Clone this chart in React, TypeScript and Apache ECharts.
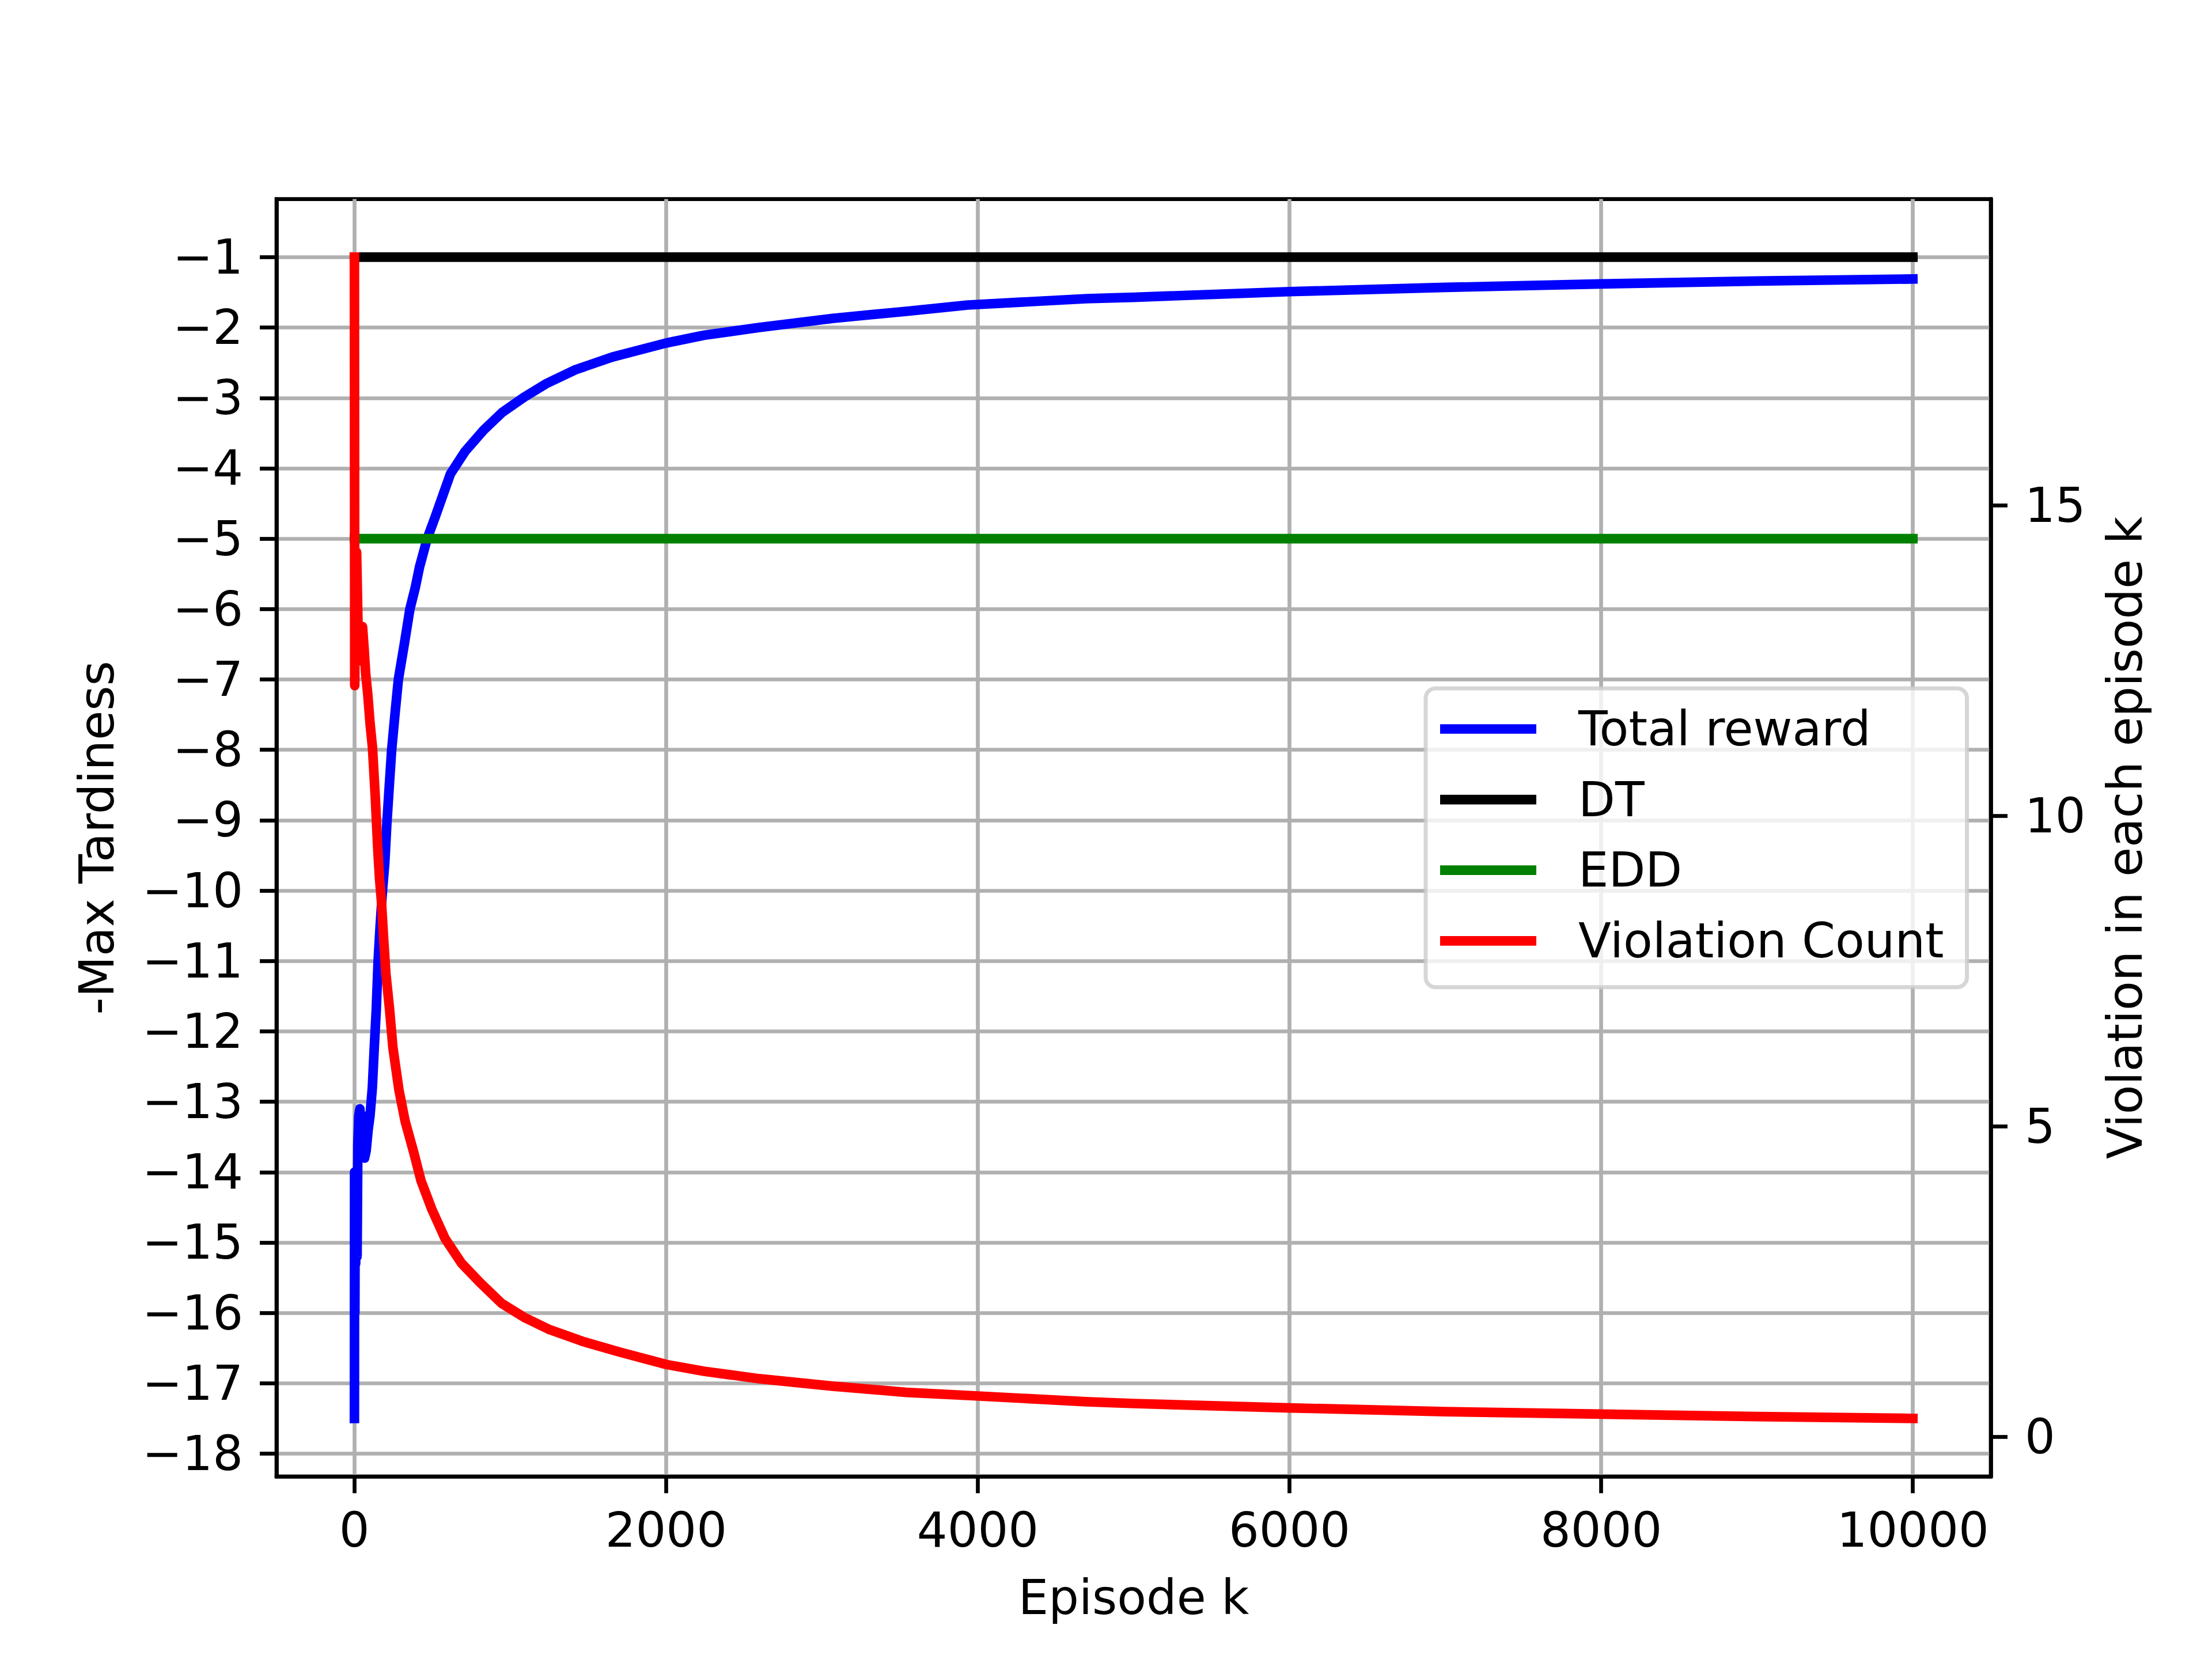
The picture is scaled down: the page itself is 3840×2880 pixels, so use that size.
import React, { useEffect, useRef } from "react";
import * as echarts from "echarts";

// ---- data ----
const rewardEpisodes = [
  0, 1, 3, 5, 8, 12, 17, 22, 28, 35,
  45, 55, 65, 75, 88, 100, 115, 128, 140, 152,
  165, 180, 195, 208, 224, 239, 260, 282, 320, 356,
  390, 418, 467, 520, 616, 710, 828, 946, 1088, 1229,
  1418, 1654, 2000, 2243, 2597, 3068, 3540, 3936, 4696, 5000,
  6000, 7000, 8000, 9000, 10000,
];
const totalReward = [
  -17.5, -14.0, -16.0, -14.2, -15.3, -14.0, -15.2, -13.6, -13.2, -13.1,
  -13.5, -13.2, -13.8, -13.7, -13.4, -13.2, -12.8, -12.2, -11.7, -11.0,
  -10.5, -10.0, -9.6, -9.05, -8.5, -8.0, -7.5, -7.0, -6.5, -6.0,
  -5.7, -5.4, -5.0, -4.68, -4.08, -3.76, -3.46, -3.21, -2.99, -2.8,
  -2.6, -2.42, -2.22, -2.11, -2.0, -1.87, -1.77, -1.68, -1.59, -1.57,
  -1.49, -1.43, -1.38, -1.34, -1.31,
];

const violationEpisodes = [
  0, 2, 6, 14, 22, 30, 40, 52, 62, 72,
  86, 100, 116, 134, 150, 161, 173, 188, 202, 225,
  247, 285, 325, 380, 427, 498, 581, 687, 805, 946,
  1088, 1252, 1465, 1700, 2000, 2243, 2597, 3068, 3540, 3936,
  4696, 5000, 6000, 7000, 8000, 9000, 10000,
];
const violationCount = [
  19.0, 12.1, 13.6, 14.25, 13.2, 12.5, 12.7, 13.05, 12.7, 12.3,
  11.95, 11.5, 11.1, 10.3, 9.46, 9.0, 8.64, 8.0, 7.46, 6.9,
  6.27, 5.6, 5.09, 4.59, 4.13, 3.66, 3.2, 2.8, 2.49, 2.15,
  1.93, 1.73, 1.54, 1.37, 1.17, 1.06, 0.94, 0.82, 0.72, 0.67,
  0.57, 0.54, 0.47, 0.41, 0.37, 0.33, 0.3,
];

const baselineEpisodes = [0, 10000];
const dtValues = [-1, -1];
const eddValues = [-5, -5];

const xTicks = [0, 2000, 4000, 6000, 8000, 10000];
const leftTicks = [-18, -17, -16, -15, -14, -13, -12, -11, -10, -9, -8, -7, -6, -5, -4, -3, -2, -1];
const rightTicks = [0, 5, 10, 15];

const seriesNames = ["Total reward", "DT", "EDD", "Violation Count"];

// ---- styling ----
const FONT = "'DejaVu Sans', sans-serif";
const FS = 83;
const LW = 16.7;
const AX = 6.7;

const pairs = (xs: number[], ys: number[]) => xs.map((x, i) => [x, ys[i]]);
const minusFmt = (v: number) => (v < 0 ? "\u2212" + Math.abs(v) : String(v));

export default function App() {
  const ref = useRef<HTMLDivElement>(null);

  useEffect(() => {
    if (!ref.current) return;
    const chart = echarts.init(ref.current, undefined, { renderer: "svg" });
    const text = { fontFamily: FONT, fontSize: FS, color: "#000" };
    const lineSeries = (name: string, data: number[][], color: string, yAxisIndex: number) => ({
      name,
      type: "line",
      yAxisIndex,
      data,
      symbol: "none",
      showSymbol: false,
      itemStyle: { color },
      lineStyle: { color, width: LW, cap: "square", join: "round" },
      emphasis: { disabled: true },
    });

    chart.setOption({
      animation: false,
      backgroundColor: "#ffffff",
      grid: {
        left: 480,
        right: 384,
        top: 345.6,
        bottom: 316.8,
        show: true,
        borderColor: "#000",
        borderWidth: AX,
        backgroundColor: "transparent",
      },
      xAxis: {
        type: "value",
        min: -500,
        max: 10500,
        name: "Episode k",
        nameLocation: "middle",
        nameGap: 169,
        nameTextStyle: text,
        axisLine: { show: true, onZero: false, lineStyle: { color: "#000", width: AX } },
        axisTick: { show: true, inside: false, length: 29, customValues: xTicks, lineStyle: { color: "#000", width: AX } },
        axisLabel: { show: true, customValues: xTicks, margin: 52, formatter: (v: number) => String(v), ...text },
        splitLine: { show: true, lineStyle: { color: "#b0b0b0", width: AX } },
      },
      yAxis: [
        {
          type: "value",
          position: "left",
          min: -18.325,
          max: -0.175,
          name: "-Max Tardiness",
          nameLocation: "middle",
          nameGap: 270,
          nameTextStyle: text,
          axisLine: { show: true, onZero: false, lineStyle: { color: "#000", width: AX } },
          axisTick: { show: true, inside: false, length: 29, customValues: leftTicks, lineStyle: { color: "#000", width: AX } },
          axisLabel: { show: true, customValues: leftTicks, margin: 58, formatter: minusFmt, ...text },
          splitLine: { show: true, lineStyle: { color: "#b0b0b0", width: AX } },
        },
        {
          type: "value",
          position: "right",
          min: -0.635,
          max: 19.935,
          name: "Violation in each episode k",
          nameLocation: "middle",
          nameGap: 192,
          nameTextStyle: text,
          axisLine: { show: true, onZero: false, lineStyle: { color: "#000", width: AX } },
          axisTick: { show: true, inside: false, length: 29, customValues: rightTicks, lineStyle: { color: "#000", width: AX } },
          axisLabel: { show: true, customValues: rightTicks, margin: 59, formatter: (v: number) => String(v), ...text },
          splitLine: { show: false },
        },
      ],
      legend: {
        orient: "vertical",
        left: 2475,
        top: 1195,
        data: seriesNames,
        icon: "rect",
        itemWidth: 167,
        itemHeight: LW,
        itemGap: 39.6,
        padding: [29, 40, 39, 25],
        backgroundColor: "rgba(255,255,255,0.8)",
        borderColor: "rgba(204,204,204,0.8)",
        borderWidth: 7,
        borderRadius: 17,
        selectedMode: false,
        textStyle: { ...text, lineHeight: 83, padding: [0, 0, 0, 68] },
      },
      series: [
        lineSeries(seriesNames[0], pairs(rewardEpisodes, totalReward), "#0000ff", 0),
        lineSeries(seriesNames[1], pairs(baselineEpisodes, dtValues), "#000000", 0),
        lineSeries(seriesNames[2], pairs(baselineEpisodes, eddValues), "#008000", 0),
        lineSeries(seriesNames[3], pairs(violationEpisodes, violationCount), "#ff0000", 1),
      ],
    });

    return () => chart.dispose();
  }, []);

  return (
    <div
      ref={ref}
      style={{ position: "fixed", left: 0, top: 0, width: 3840, height: 2880, background: "#ffffff" }}
    />
  );
}
